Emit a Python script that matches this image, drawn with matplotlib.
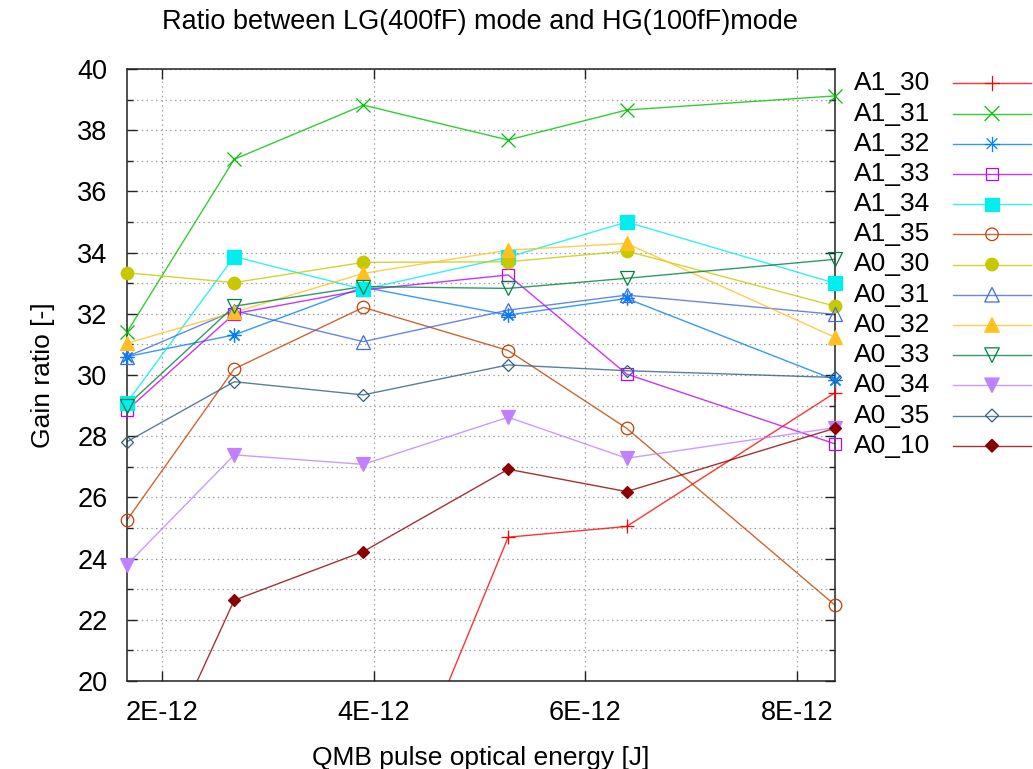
import numpy as np
import matplotlib
matplotlib.use("Agg")
import matplotlib.pyplot as plt
from matplotlib.patches import Polygon, Circle
from matplotlib.ticker import MultipleLocator

plt.rcParams["font.family"] = ["Liberation Sans", "DejaVu Sans"]

# pulse energy [J] for each measurement step
energy = [1.666e-12, 2.68e-12, 3.90e-12, 5.27e-12, 6.39e-12, 8.36e-12]

labels = ["A1_30", "A1_31", "A1_32", "A1_33", "A1_34", "A1_35",
          "A0_30", "A0_31", "A0_32", "A0_33", "A0_34", "A0_35", "A0_10"]

a1_30 = [np.nan, np.nan, 13.2, 24.70, 25.05, 29.42]
a1_31 = [31.40, 37.05, 38.82, 37.68, 38.66, 39.12]
a1_32 = [30.60, 31.31, 32.87, 31.96, 32.50, 29.84]
a1_33 = [28.85, 32.00, 32.78, 33.27, 30.03, 27.75]
a1_34 = [29.10, 33.87, 32.80, 33.85, 35.00, 33.00]
a1_35 = [25.26, 30.20, 32.21, 30.80, 28.26, 22.48]
a0_30 = [33.34, 33.02, 33.68, 33.70, 34.05, 32.25]
a0_31 = [30.60, 32.10, 31.09, 32.12, 32.61, 31.98]
a0_32 = [31.04, 32.05, 33.32, 34.08, 34.30, 31.23]
a0_33 = [29.00, 32.25, 32.89, 32.83, 33.16, 33.78]
a0_34 = [23.80, 27.39, 27.08, 28.62, 27.28, 28.28]
a0_35 = [27.82, 29.78, 29.35, 30.33, 30.14, 29.92]
a0_10 = [15.00, 22.64, 24.23, 26.92, 26.19, 28.26]

ratios = [a1_30, a1_31, a1_32, a1_33, a1_34, a1_35,
          a0_30, a0_31, a0_32, a0_33, a0_34, a0_35, a0_10]

# gnuplot-like default linetypes: colour, marker, size, filled
STYLES = [
    ("#ff0000", "+",        10, True),
    ("#00c000", "x",        10, True),
    ("#0080ff", (8, 2, 0),  10, True),
    ("#c000ff", "s",        9,  False),
    ("#00eeee", "s",        9.5, True),
    ("#c04000", "o",        9,  False),
    ("#c8c800", "o",        9,  True),
    ("#4169e1", "^",        10.5, False),
    ("#ffc020", "^",        10.5, True),
    ("#008040", "v",        10.5, False),
    ("#c080ff", "v",        10.5, True),
    ("#306080", "D",        6.6, False),
    ("#8b0000", "D",        6.6, True),
]

YMIN, YMAX = 20, 40
PX = 100 / 72   # pixels per point


def marker_kw(color, marker, size, filled):
    kw = dict(marker=marker, markersize=size, markeredgecolor=color,
              markeredgewidth=0.9)
    kw["markerfacecolor"] = color if filled else "none"
    return kw


def key_symbol(kax, cx, cy, color, marker, size, filled):
    """Point symbol for the key, built from plain paths in pixel units."""
    r = size * PX / 2
    face = color if filled else "none"
    strokes = []
    if marker == "+":
        strokes = [((cx - r, cy), (cx + r, cy)), ((cx, cy - r), (cx, cy + r))]
    elif marker == "x":
        strokes = [((cx - r, cy - r), (cx + r, cy + r)),
                   ((cx - r, cy + r), (cx + r, cy - r))]
    elif isinstance(marker, tuple):
        for ang in np.arange(0, np.pi, np.pi / 4):
            dx, dy = r * np.cos(ang), r * np.sin(ang)
            strokes.append(((cx - dx, cy - dy), (cx + dx, cy + dy)))
    elif marker == "s":
        pts = [(cx - r, cy - r), (cx + r, cy - r), (cx + r, cy + r),
               (cx - r, cy + r)]
        kax.add_patch(Polygon(pts, closed=True, fc=face, ec=color, lw=0.9))
    elif marker == "o":
        kax.add_patch(Circle((cx, cy), r, fc=face, ec=color, lw=0.9))
    elif marker in ("^", "v"):
        s = -1 if marker == "^" else 1
        pts = [(cx, cy + s * r), (cx - r, cy - s * r), (cx + r, cy - s * r)]
        kax.add_patch(Polygon(pts, closed=True, fc=face, ec=color, lw=0.9))
    elif marker == "D":
        d = r * np.sqrt(2)
        pts = [(cx, cy - d), (cx + d, cy), (cx, cy + d), (cx - d, cy)]
        kax.add_patch(Polygon(pts, closed=True, fc=face, ec=color, lw=0.9))
    for (x0, y0), (x1, y1) in strokes:
        kax.plot([x0, x1], [y0, y1], color=color, lw=0.9)


fig = plt.figure(figsize=(10.33, 7.69), dpi=100)
ax = fig.add_axes([127 / 1033, 1 - 681 / 769, (835 - 127) / 1033,
                   (681 - 69) / 769])

x = np.array(energy)
for vals, (color, marker, size, filled) in zip(ratios, STYLES):
    y = np.array(vals, dtype=float)
    ax.plot(x, y, color=color, lw=1.0, alpha=0.8, zorder=2)
    inside = np.isfinite(y) & (y >= YMIN) & (y <= YMAX)
    ax.plot(x[inside], y[inside], linestyle="none", clip_on=False, zorder=3,
            **marker_kw(color, marker, size, filled))

ax.set_xlim(energy[0], energy[-1])
ax.set_ylim(YMIN, YMAX)
ax.set_xticks([2e-12, 4e-12, 6e-12, 8e-12])
ax.set_xticklabels(["2E-12", "4E-12", "6E-12", "8E-12"])
ax.yaxis.set_major_locator(MultipleLocator(2))
ax.yaxis.set_minor_locator(MultipleLocator(1))

ax.grid(True, which="major", axis="x", color="#a0a0a0", lw=0.9,
        linestyle=(0, (1.2, 2.6)))
ax.grid(True, which="both", axis="y", color="#a0a0a0", lw=0.9,
        linestyle=(0, (1.2, 2.6)))
ax.set_axisbelow(True)

ax.tick_params(which="major", direction="in", length=7, width=1.0,
               top=True, right=True, labelsize=19.5, pad=14,
               color="#222222", labelcolor="black")
ax.tick_params(which="minor", direction="in", length=4, width=1.0,
               right=True, left=True, color="#222222")
for s in ax.spines.values():
    s.set_linewidth(1.1)
    s.set_color("#222222")

ax.set_xlabel("QMB pulse optical energy [J]", fontsize=19, labelpad=14)
ax.set_ylabel("Gain ratio [-]", fontsize=19, labelpad=16)
fig.text(480 / 1033, 1 - 22 / 769,
         "Ratio between LG(400fF) mode and HG(100fF)mode",
         ha="center", va="center", fontsize=19.5)

# key on the right: label first, then sample line with symbol in the middle
key = fig.add_axes([0, 0, 1, 1], facecolor="none", zorder=5)
for i, (lab, (color, marker, size, filled)) in enumerate(zip(labels, STYLES)):
    yy = 83.3 + i * 30.2
    key.text(854, yy, lab, ha="left", va="center", fontsize=19)
    key.plot([953, 1031], [yy, yy], color=color, lw=1.0, alpha=0.8)
    key_symbol(key, 992, yy, color, marker, size, filled)
key.set_xlim(0, 1033)
key.set_ylim(769, 0)
key.set_axis_off()

fig.savefig("out.png", dpi=100)
